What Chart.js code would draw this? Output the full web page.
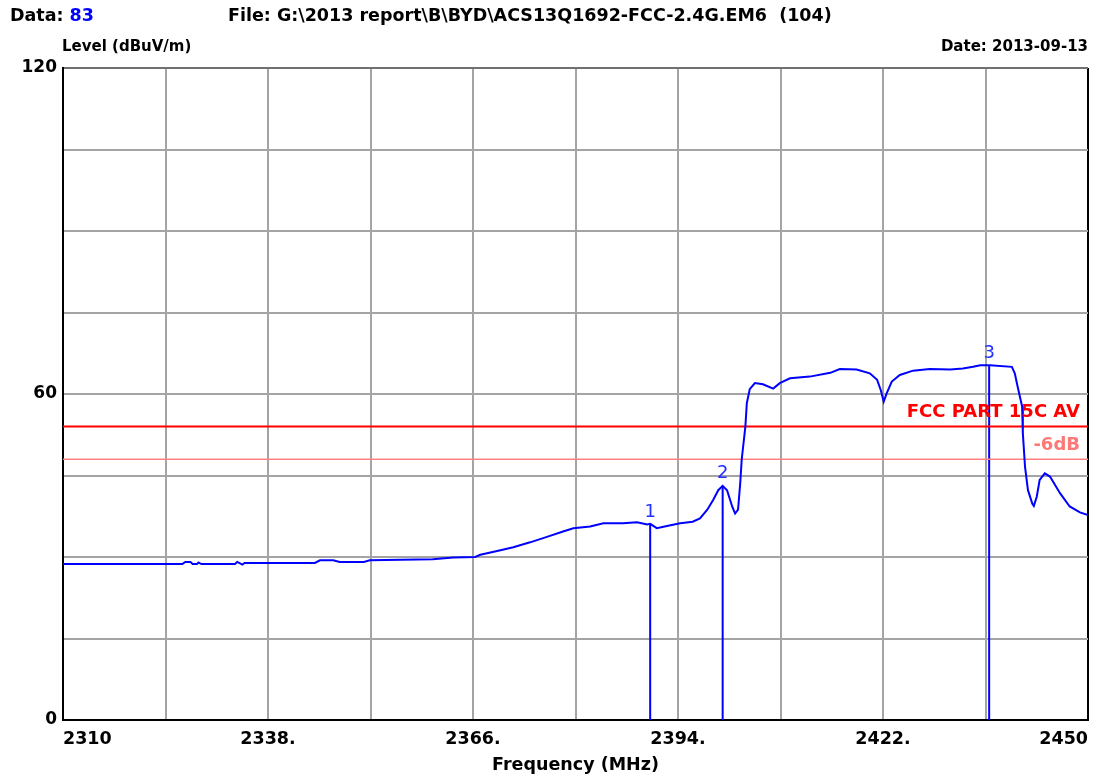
<!DOCTYPE html>
<html>
<head>
<meta charset="utf-8">
<script src="https://cdn.jsdelivr.net/npm/chart.js@4.4.1/dist/chart.umd.min.js"></script>
<style>
  html, body { margin: 0; padding: 0; background: #fff; }
  canvas { display: block; }
</style>
</head>
<body>
<canvas id="graph" width="1111" height="778"></canvas>
<script>
// trace (MHz / dBuV/m)
const freqMHz = [2310.0, 2326.3, 2326.7, 2327.4, 2327.7, 2328.3, 2328.5, 2328.9, 2333.5, 2333.8,
  2334.5, 2334.8, 2344.4, 2345.1, 2346.9, 2347.8, 2351.1,
  2351.9, 2360.5, 2363.3, 2366.3, 2367.0, 2369.3, 2371.5, 2373.8, 2376.1, 2378.3,
  2379.7, 2382.0, 2383.8, 2386.5, 2388.4, 2389.8, 2390.2, 2391.1, 2392.5, 2394.3,
  2396.0, 2397.0, 2398.0, 2398.8, 2399.5, 2400.1, 2400.7, 2401.4, 2401.8, 2402.2,
  2402.5, 2402.7, 2403.2, 2403.4, 2403.8, 2404.5, 2405.6, 2407.0, 2407.9, 2409.3,
  2412.0, 2414.8, 2416.1, 2418.4, 2420.2, 2421.2, 2421.7, 2422.1, 2422.5, 2423.2,
  2424.3, 2426.1, 2428.4, 2431.2, 2432.9, 2434.3, 2435.3, 2436.6, 2439.6, 2440.0,
  2440.4, 2441.0, 2441.1, 2441.4, 2441.8, 2442.4, 2442.6, 2443.0, 2443.4, 2444.1,
  2444.8, 2446.2, 2447.5, 2448.9, 2450.0];
const levelDb = [28.7, 28.7, 29.1, 29.1, 28.7, 28.7, 29.0, 28.7, 28.7, 29.1,
  28.6, 28.9, 28.9, 29.4, 29.4, 29.1, 29.1,
  29.4, 29.6, 29.9, 30.0, 30.4, 31.1, 31.8, 32.7, 33.7, 34.7,
  35.3, 35.6, 36.2, 36.2, 36.4, 36.0, 36.1, 35.3, 35.7, 36.2,
  36.5, 37.1, 38.7, 40.5, 42.3, 43.1, 42.3, 39.3, 38.0, 38.7,
  43.6, 47.9, 54.0, 58.3, 60.9, 62.0, 61.8, 61.0, 62.0, 62.9,
  63.2, 63.9, 64.6, 64.5, 63.8, 62.6, 60.7, 58.6, 60.1, 62.3,
  63.5, 64.3, 64.6, 64.5, 64.7, 65.0, 65.3, 65.3, 65.0, 63.8,
  61.3, 57.7, 52.8, 46.6, 42.3, 39.8, 39.4, 41.1, 44.2, 45.4,
  44.8, 41.7, 39.3, 38.2, 37.7];

const markerNames = ['1', '2', '3'];
const markerFreq = [2390.2, 2400.1, 2436.5];
const markerLevel = [36.1, 43.1, 65.3];

const limitLevel = 54;
const limitLabel = 'FCC PART 15C AV';
const marginLevel = 48;
const marginLabel = '-6dB';

const xTickValues = [2310, 2338, 2366, 2394, 2422, 2450];
const xTickLabels = ['2310', '2338.', '2366.', '2394.', '2422.', '2450'];
const yTickLabels = { 0: '0', 60: '60', 120: '120' };

const dataNo = '83';
const fileText = 'File: G:\\2013 report\\B\\BYD\\ACS13Q1692-FCC-2.4G.EM6  (104)';
const dateText = 'Date: 2013-09-13';

const FAM = '"DejaVu Sans", Verdana, sans-serif';

const textes = {
  id: 'textes',
  afterDraw(chart) {
    const ctx = chart.ctx;
    const x = chart.scales.x, y = chart.scales.y;
    const area = chart.chartArea;
    ctx.save();
    ctx.font = 'bold 17.5px ' + FAM;
    ctx.textBaseline = 'middle';
    ctx.fillStyle = '#000';
    ctx.textAlign = 'left';
    ctx.fillText('Data: ', 10, 16);
    const w = ctx.measureText('Data: ').width;
    ctx.fillStyle = '#0000ff';
    ctx.fillText(dataNo, 10 + w, 16);
    ctx.fillStyle = '#000';
    ctx.fillText(fileText, 228, 16);

    ctx.font = 'bold 15px ' + FAM;
    ctx.fillText('Level (dBuV/m)', 62, 47);
    ctx.textAlign = 'right';
    ctx.fillText(dateText, area.right, 47);

    // graduations x
    ctx.font = 'bold 17.5px ' + FAM;
    xTickValues.forEach((v, i) => {
      ctx.textAlign = i === 0 ? 'left' : (i === xTickValues.length - 1 ? 'right' : 'center');
      ctx.fillText(xTickLabels[i], x.getPixelForValue(v), 739);
    });
    ctx.textAlign = 'center';
    ctx.fillText('Frequency (MHz)', (area.left + area.right) / 2, 765);

    // limites
    ctx.textAlign = 'right';
    ctx.textBaseline = 'bottom';
    ctx.font = 'bold 18px ' + FAM;
    ctx.fillStyle = '#ff0000';
    ctx.fillText(limitLabel, area.right - 8, y.getPixelForValue(limitLevel) - 5);
    ctx.fillStyle = '#ff7878';
    ctx.fillText(marginLabel, area.right - 8, y.getPixelForValue(marginLevel) - 5);

    // marqueurs
    ctx.textAlign = 'center';
    ctx.font = '18px ' + FAM;
    ctx.fillStyle = '#2030ff';
    markerNames.forEach((n, i) => {
      ctx.fillText(n, x.getPixelForValue(markerFreq[i]), y.getPixelForValue(markerLevel[i]) - 3);
    });
    ctx.restore();
  }
};

const datasets = [
  {
    data: freqMHz.map((f, i) => ({ x: f, y: levelDb[i] })),
    borderColor: '#0000ff',
    borderWidth: 2
  },
  {
    data: [{ x: 2310, y: limitLevel }, { x: 2450, y: limitLevel }],
    borderColor: '#ff0000',
    borderWidth: 2
  },
  {
    data: [{ x: 2310, y: marginLevel }, { x: 2450, y: marginLevel }],
    borderColor: '#ff8080',
    borderWidth: 1.5
  }
];
markerFreq.forEach((f, i) => {
  datasets.push({
    data: [{ x: f, y: 0 }, { x: f, y: markerLevel[i] }],
    borderColor: '#0000ff',
    borderWidth: 2
  });
});

new Chart(document.getElementById('graph'), {
  type: 'line',
  data: { datasets: datasets },
  options: {
    responsive: false,
    animation: false,
    devicePixelRatio: 1,
    elements: { point: { radius: 0 }, line: { tension: 0 } },
    layout: { padding: { left: 0, right: 23, top: 68, bottom: 0 } },
    plugins: { legend: { display: false }, tooltip: { enabled: false } },
    scales: {
      x: {
        type: 'linear',
        min: 2310,
        max: 2450,
        afterFit: s => { s.height = 58; },
        ticks: { stepSize: 14, display: false },
        grid: {
          color: c => c.tick && c.tick.value === 2450 ? '#000' : '#a4a4a4',
          lineWidth: 2,
          drawTicks: false
        },
        border: { display: true, color: '#000', width: 2 }
      },
      y: {
        min: 0,
        max: 120,
        afterFit: s => { s.width = 63; },
        ticks: {
          stepSize: 15,
          padding: 6,
          color: '#000',
          font: { family: FAM, size: 17, weight: 'bold' },
          callback: v => yTickLabels[v] !== undefined ? yTickLabels[v] : ''
        },
        grid: {
          color: c => c.tick && c.tick.value === 120 ? '#707070' : '#a4a4a4',
          lineWidth: 2,
          drawTicks: false
        },
        border: { display: true, color: '#000', width: 2 }
      }
    }
  },
  plugins: [textes]
});
</script>
</body>
</html>
